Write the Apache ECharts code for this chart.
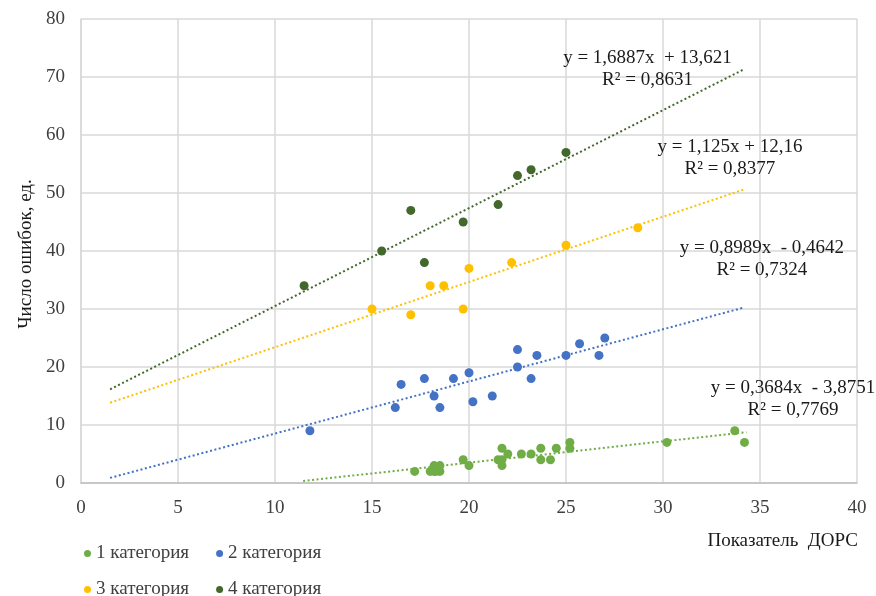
<!DOCTYPE html>
<html>
<head>
<meta charset="utf-8">
<script src="https://cdn.jsdelivr.net/npm/echarts@6/dist/echarts.min.js"></script>
<style>
  html, body { margin: 0; padding: 0; background: #fff; }
  #chart { width: 876px; height: 596px; }
</style>
</head>
<body>
<div id="chart"></div>
<script>
// Points per category: [ДОРС, число ошибок]
const cat1 = [[17.2,2],[18,2],[18.2,3],[18.2,2],[18.5,3],[18.5,2],[18.3,2],[19.7,4],[20,3],[21.5,4],[21.7,6],[21.7,4],[21.7,3],[22,5],[22.7,5],[23.2,5],[23.7,6],[23.7,4],[24.2,4],[24.5,6],[25.2,7],[25.2,6],[30.2,7],[33.7,9],[34.2,7]];
const cat2 = [[11.8,9],[16.2,13],[16.5,17],[17.7,18],[18.2,15],[18.5,13],[19.2,18],[20,19],[20.2,14],[21.2,15],[22.5,23],[22.5,20],[23.2,18],[23.5,22],[25,22],[25.7,24],[26.7,22],[27,25]];
const cat3 = [[15,30],[17,29],[18,34],[18.7,34],[19.7,30],[20,37],[22.2,38],[25,41],[28.7,44]];
const cat4 = [[11.5,34],[15.5,40],[17,47],[17.7,38],[19.7,45],[21.5,48],[22.5,53],[23.2,54],[25,57]];

const names = ['1 категория', '2 категория', '3 категория', '4 категория'];
const colors = ['#70AD47', '#4472C4', '#FFC000', '#43682B'];

// Linear trends: slope, intercept, x-range, equation text, R²
const trendSlope = [0.3684, 0.8989, 1.125, 1.6887];
const trendIntercept = [-3.8751, -0.4642, 12.16, 13.621];
const trendFrom = [11.45, 1.5, 1.5, 1.5];
const trendTo = [34.3, 34.2, 34.2, 34.2];
const eqText = ['y = 0,3684x  - 3,8751', 'y = 0,8989x  - 0,4642', 'y = 1,125x + 12,16', 'y = 1,6887x  + 13,621'];
const r2Text = ['R² = 0,7769', 'R² = 0,7324', 'R² = 0,8377', 'R² = 0,8631'];
// where each equation block is centred (data coordinates)
const eqAnchor = [[36.7, 14.5], [35.1, 38.6], [33.45, 56.1], [29.2, 71.3]];

const xTicks = { min: 0, max: 40, interval: 5 };
const yTicks = { min: 0, max: 80, interval: 10 };

const font = '"Liberation Serif", "Times New Roman", serif';
const fs = 19;
const allData = [cat1, cat2, cat3, cat4];

const series = [];
// trendlines first so the points sit on top
for (let i = 0; i < 4; i++) {
  const a = trendSlope[i], b = trendIntercept[i];
  series.push({
    type: 'line',
    name: 'trend' + (i + 1),
    data: [[trendFrom[i], a * trendFrom[i] + b], [trendTo[i], a * trendTo[i] + b]],
    symbol: 'none',
    silent: true,
    lineStyle: { color: colors[i], width: 2, type: [2, 2.5] },
    z: 2
  });
}
for (let i = 0; i < 4; i++) {
  series.push({
    type: 'scatter',
    name: names[i],
    data: allData[i],
    symbol: 'circle',
    symbolSize: 9,
    itemStyle: { color: colors[i], opacity: 1 },
    z: 3
  });
}

const chart = echarts.init(document.getElementById('chart'), null, { renderer: 'canvas' });
const legendCommon = {
  icon: 'circle',
  itemWidth: 7,
  itemHeight: 7,
  itemGap: 27,
  padding: 0,
  textStyle: { fontFamily: font, fontSize: fs, color: '#404040' },
  left: 84,
  selectedMode: false
};
chart.setOption({
  animation: false,
  backgroundColor: '#fff',
  grid: { left: 81, right: 19, top: 19, bottom: 113 },
  xAxis: {
    type: 'value',
    min: xTicks.min, max: xTicks.max, interval: xTicks.interval,
    axisLine: { show: true, lineStyle: { color: '#bfbfbf', width: 1.5 } },
    axisTick: { show: false },
    splitLine: { show: true, lineStyle: { color: '#d9d9d9', width: 1.5 } },
    axisLabel: { fontFamily: font, fontSize: fs, color: '#404040', margin: 16 }
  },
  yAxis: {
    type: 'value',
    min: yTicks.min, max: yTicks.max, interval: yTicks.interval,
    axisLine: { show: true, lineStyle: { color: '#d9d9d9', width: 1.5 } },
    axisTick: { show: false },
    splitLine: { show: true, lineStyle: { color: '#d9d9d9', width: 1.5 } },
    axisLabel: { fontFamily: font, fontSize: fs, color: '#404040', margin: 16 }
  },
  legend: [
    Object.assign({ data: names.slice(0, 2), top: 544 }, legendCommon),
    Object.assign({ data: names.slice(2, 4), top: 580 }, legendCommon)
  ],
  series: series
});

// axis titles and trend equations
const graphics = [
  {
    type: 'text', x: 858, y: 541,
    style: { text: 'Показатель  ДОРС', font: fs + 'px ' + font, fill: '#1a1a1a', align: 'right', verticalAlign: 'middle' }
  },
  {
    type: 'text', x: 26, y: 254, rotation: Math.PI / 2,
    style: { text: 'Число ошибок, ед.', font: fs + 'px ' + font, fill: '#1a1a1a', align: 'center', verticalAlign: 'middle' }
  }
];
for (let i = 0; i < 4; i++) {
  const p = chart.convertToPixel({ gridIndex: 0 }, eqAnchor[i]);
  graphics.push({
    type: 'text', x: p[0], y: p[1] - 11,
    style: { text: eqText[i], font: fs + 'px ' + font, fill: '#1a1a1a', align: 'center', verticalAlign: 'middle' },
    z: 10
  });
  graphics.push({
    type: 'text', x: p[0], y: p[1] + 11,
    style: { text: r2Text[i], font: fs + 'px ' + font, fill: '#1a1a1a', align: 'center', verticalAlign: 'middle' },
    z: 10
  });
}
chart.setOption({ graphic: graphics });
</script>
</body>
</html>
